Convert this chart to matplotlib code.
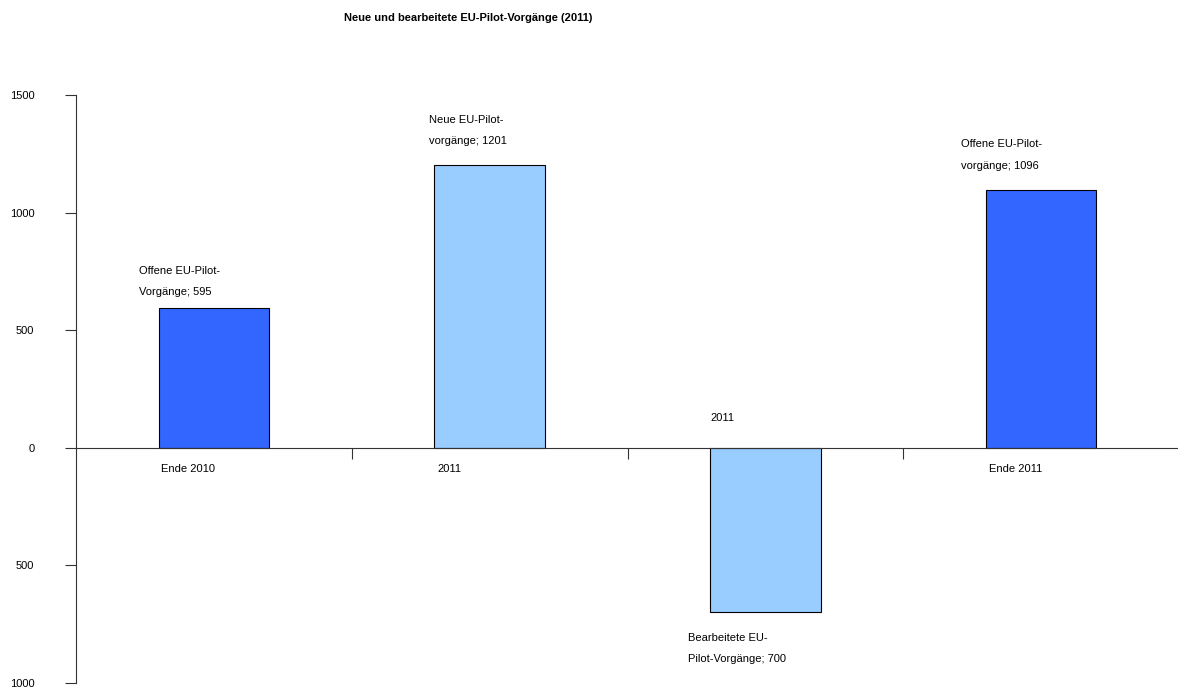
import numpy as np
import matplotlib.pyplot as plt

plt.rcParams['font.family'] = ['Liberation Sans Narrow', 'Liberation Sans', 'DejaVu Sans']

# chart data
categories = ['Ende 2010', '2011', '2011', 'Ende 2011']
values = [595, 1201, -700, 1096]
bar_labels = ['Offene EU-Pilot-\nVorgänge; 595',
              'Neue EU-Pilot-\nvorgänge; 1201',
              'Bearbeitete EU-\nPilot-Vorgänge; 700',
              'Offene EU-Pilot-\nvorgänge; 1096']
yticks = [1500, 1000, 500, 0, -500, -1000]
title = 'Neue und bearbeitete EU-Pilot-Vorgänge (2011)'

dark_blue = '#3366FF'
light_blue = '#99CCFF'
colors = [dark_blue, light_blue, light_blue, dark_blue]

fig = plt.figure(figsize=(11.78, 6.96), dpi=100)
ax = fig.add_axes([76 / 1178, 1 - 683 / 696, 1103 / 1178, 588 / 696])

x = np.arange(len(categories))
ax.bar(x, values, width=0.4, color=colors, edgecolor='black', linewidth=0.8)

ax.set_xlim(-0.5, 3.5)
ax.set_ylim(-1000, 1500)

ax.spines['top'].set_visible(False)
ax.spines['right'].set_visible(False)
ax.spines['bottom'].set_position(('data', 0))
ax.spines['left'].set_color('#333333')
ax.spines['bottom'].set_color('#333333')

ax.set_yticks(yticks)
ax.set_yticklabels([str(abs(v)) for v in yticks], fontsize=8)
ax.tick_params(axis='y', length=8, pad=22, color='#333333')
ax.set_xticks([0.5, 1.5, 2.5])
ax.set_xticklabels([])
ax.tick_params(axis='x', length=8, direction='out', color='#333333')

# category names, left aligned at the bar edge
for i, cat in enumerate(categories):
    if values[i] >= 0:
        ax.annotate(cat, (i - 0.19, 0), xytext=(0, -12), textcoords='offset points',
                    ha='left', va='top', fontsize=8)
    else:
        ax.annotate(cat, (i - 0.2, 0), xytext=(0, 18), textcoords='offset points',
                    ha='left', va='bottom', fontsize=8)

# data labels
label_dx = [-0.27, -0.22, -0.28, -0.29]
label_dy = [8, 14, -15, 14]
for i, lab in enumerate(bar_labels):
    ax.annotate(lab, (i + label_dx[i], values[i]), xytext=(0, label_dy[i]),
                textcoords='offset points', ha='left',
                va='bottom' if values[i] >= 0 else 'top',
                fontsize=8, linespacing=2.4)

fig.text(468 / 1178, 1 - 18 / 696, title, ha='center', va='center',
         fontsize=8, fontweight='bold')

fig.savefig('out.png', dpi=100)
